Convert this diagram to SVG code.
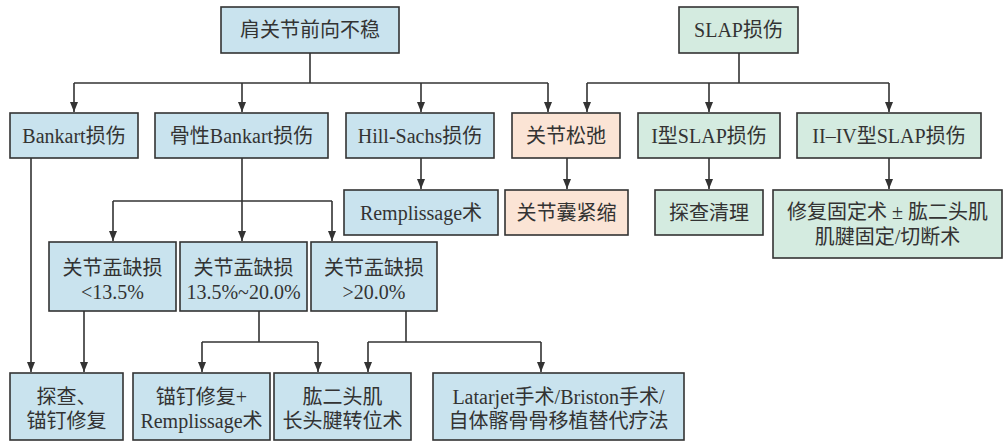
<svg xmlns="http://www.w3.org/2000/svg" width="1004" height="441" viewBox="0 0 1004 441">
<style>
rect{stroke:#333;stroke-width:1.6}
.b{fill:#c9e3ee}.g{fill:#d4ebe0}.p{fill:#fbe4d5}
text{font-family:"Liberation Serif","Noto Sans CJK SC",serif;font-size:20px;fill:#333;text-anchor:middle}
#conn path{fill:none;stroke:#333;stroke-width:1.6}
</style>
<defs>
<marker id="a" viewBox="0 0 10 10" refX="10" refY="5" markerWidth="10" markerHeight="10" markerUnits="userSpaceOnUse" orient="auto"><path d="M0,1 L10,5 L0,9 Z" fill="#333"/></marker>
</defs>
<rect width="1004" height="441" fill="#fff" style="stroke:none"/>
<g id="conn">
<path d="M310,53 V83"/>
<path d="M74,83 H548"/>
<path d="M74,83 V112" marker-end="url(#a)"/>
<path d="M242,83 V112" marker-end="url(#a)"/>
<path d="M421,83 V112" marker-end="url(#a)"/>
<path d="M548,83 V112" marker-end="url(#a)"/>
<path d="M739,53 V83"/>
<path d="M587,83 H889"/>
<path d="M587,83 V112" marker-end="url(#a)"/>
<path d="M709,83 V112" marker-end="url(#a)"/>
<path d="M889,83 V112" marker-end="url(#a)"/>
<path d="M421,158 V189" marker-end="url(#a)"/>
<path d="M567,158 V189" marker-end="url(#a)"/>
<path d="M709,158 V189" marker-end="url(#a)"/>
<path d="M889,158 V189" marker-end="url(#a)"/>
<path d="M31,158 V372" marker-end="url(#a)"/>
<path d="M242,158 V201"/>
<path d="M113,201 H332"/>
<path d="M113,201 V241" marker-end="url(#a)"/>
<path d="M242,201 V241" marker-end="url(#a)"/>
<path d="M332,201 V241" marker-end="url(#a)"/>
<path d="M84,311 V372" marker-end="url(#a)"/>
<path d="M259,311 V342"/>
<path d="M202,342 H318"/>
<path d="M202,342 V372" marker-end="url(#a)"/>
<path d="M318,342 V372" marker-end="url(#a)"/>
<path d="M406,311 V342"/>
<path d="M368,342 H541"/>
<path d="M368,342 V372" marker-end="url(#a)"/>
<path d="M541,342 V372" marker-end="url(#a)"/>
</g>
<g id="n1"><rect class="b" x="221" y="7" width="178" height="46"/><text x="310" y="37">肩关节前向不稳</text></g>
<g id="n2"><rect class="g" x="679" y="7" width="119" height="46"/><text x="738.5" y="37">SLAP损伤</text></g>
<g id="n3"><rect class="b" x="10" y="113" width="128" height="45"/><text x="74" y="143">Bankart损伤</text></g>
<g id="n4"><rect class="b" x="155" y="113" width="173" height="45"/><text x="241.5" y="143">骨性Bankart损伤</text></g>
<g id="n5"><rect class="b" x="346" y="113" width="148" height="45"/><text x="420" y="143">Hill-Sachs损伤</text></g>
<g id="n6"><rect class="p" x="512" y="113" width="108" height="45"/><text x="566" y="143">关节松弛</text></g>
<g id="n7"><rect class="g" x="638" y="113" width="142" height="45"/><text x="709" y="143">I型SLAP损伤</text></g>
<g id="n8"><rect class="g" x="797" y="113" width="184" height="45"/><text x="889" y="143">II–IV型SLAP损伤</text></g>
<g id="n9"><rect class="b" x="344" y="190" width="154" height="45"/><text x="421" y="220">Remplissage术</text></g>
<g id="n10"><rect class="p" x="505" y="190" width="123" height="45"/><text x="566.5" y="220">关节囊紧缩</text></g>
<g id="n11"><rect class="g" x="655" y="190" width="108" height="45"/><text x="709" y="220">探查清理</text></g>
<g id="n12"><rect class="g" x="773" y="190" width="229" height="68"/><text x="887.5" y="219">修复固定术 ± 肱二头肌</text><text x="887.5" y="244">肌腱固定/切断术</text></g>
<g id="n13"><rect class="b" x="49" y="242" width="127" height="69"/><text x="112.5" y="275">关节盂缺损</text><text x="112.5" y="299">&lt;13.5%</text></g>
<g id="n14"><rect class="b" x="180" y="242" width="127" height="69"/><text x="243.5" y="275">关节盂缺损</text><text x="243.5" y="299">13.5%~20.0%</text></g>
<g id="n15"><rect class="b" x="311" y="242" width="126" height="69"/><text x="374" y="275">关节盂缺损</text><text x="374" y="299">&gt;20.0%</text></g>
<g id="n16"><rect class="b" x="10" y="373" width="113" height="67"/><text x="66.5" y="404">探查、</text><text x="66.5" y="428">锚钉修复</text></g>
<g id="n17"><rect class="b" x="133" y="373" width="137" height="67"/><text x="201.5" y="404">锚钉修复+</text><text x="201.5" y="428">Remplissage术</text></g>
<g id="n18"><rect class="b" x="274" y="373" width="137" height="67"/><text x="342.5" y="404">肱二头肌</text><text x="342.5" y="428">长头腱转位术</text></g>
<g id="n19"><rect class="b" x="433" y="373" width="251" height="67"/><text x="558.5" y="404">Latarjet手术/Briston手术/</text><text x="558.5" y="428">自体髂骨骨移植替代疗法</text></g>
</svg>
